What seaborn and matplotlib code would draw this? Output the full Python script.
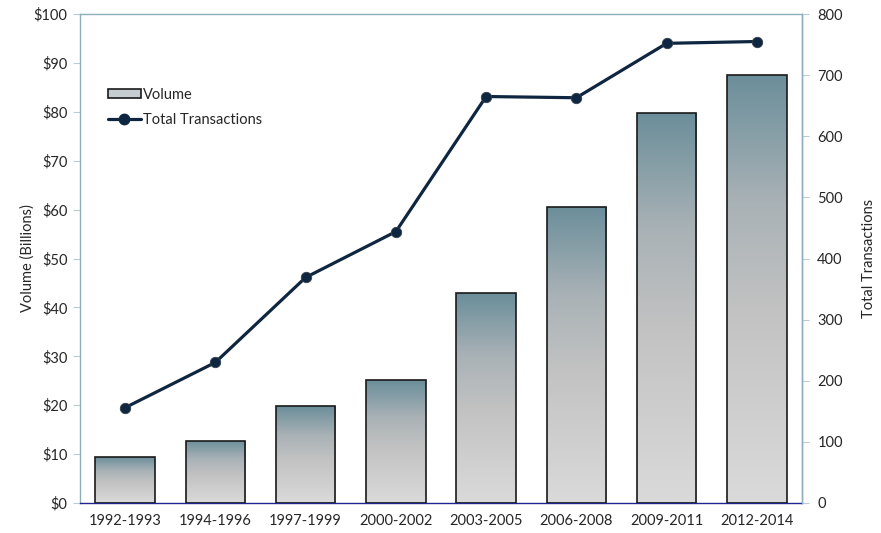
import numpy as np
import pandas as pd
import seaborn as sns
import matplotlib.pyplot as plt
from matplotlib.colors import LinearSegmentedColormap
from matplotlib.patches import Patch
from matplotlib.lines import Line2D

# Data
periods = ["1992-1993", "1994-1996", "1997-1999", "2000-2002",
           "2003-2005", "2006-2008", "2009-2011", "2012-2014"]
volume = [9.4, 12.7, 19.8, 25.1, 42.9, 60.6, 79.8, 87.6]
transactions = [156, 230, 369, 444, 665, 663, 752, 755]

df = pd.DataFrame({"period": periods, "volume": volume, "transactions": transactions})

sns.set_style("white")
plt.rcParams['font.family'] = ['Lato', 'DejaVu Sans']

fig = plt.figure(figsize=(8.81, 5.33), dpi=100)
ax = fig.add_axes([80 / 881, 1 - 503 / 533, 722 / 881, 489 / 533])

sns.barplot(data=df, x="period", y="volume", ax=ax, width=0.66,
            color="#c0c0c0", edgecolor="#1a1a1a", linewidth=1.2, zorder=3)

# gradient fill for each bar
cmap = LinearSegmentedColormap.from_list(
    "bar", [(0, "#dadada"), (0.45, "#c2c2c2"), (0.7, "#a9b2b6"), (1, "#6b8e9a")])
grad = np.linspace(0, 1, 256).reshape(-1, 1)
for p in ax.patches:
    x0, y0, w, h = p.get_x(), p.get_y(), p.get_width(), p.get_height()
    im = ax.imshow(grad, extent=[x0, x0 + w, y0, y0 + h], origin="lower",
                   aspect="auto", cmap=cmap, zorder=2)
    im.set_clip_path(p)
    p.set_facecolor("none")

ax.set_aspect("auto")
ax.set_xlim(-0.5, 7.5)
ax.set_ylim(0, 100)
ax.set_yticks(range(0, 101, 10))
ax.set_yticklabels([f"${v}" for v in range(0, 101, 10)])
ax.set_xlabel("")
ax.set_ylabel("Volume (Billions)", fontsize=10.5, labelpad=-1)

# category separators as crossing minor ticks
ax.set_xticks(np.arange(-0.5, 8, 1), minor=True)
ax.tick_params(axis="x", which="major", length=0, pad=8, labelsize=10.5)
ax.tick_params(axis="x", which="minor", direction="inout", length=9, width=0.8, color="#7b7bd0")
ax.tick_params(axis="y", which="major", left=True, length=5, width=0.8,
               color="#b9ccd4", labelsize=10.5, pad=4)

spine_col = "#8eaebc"
for s in ["left", "top", "right"]:
    ax.spines[s].set_color(spine_col)
    ax.spines[s].set_linewidth(1.0)
ax.spines["bottom"].set_color("#23238f")
ax.spines["bottom"].set_linewidth(1.0)

# transactions line on the secondary axis
ax2 = ax.twinx()
sns.lineplot(x=np.arange(len(periods)), y=transactions, ax=ax2, color="#0f2640",
             linewidth=2.3, marker="o", markersize=7.5, markeredgecolor="#333f4a",
             markeredgewidth=0.6, zorder=4)
ax2.set_xlim(-0.5, 7.5)
ax2.set_ylim(0, 800)
ax2.set_yticks(range(0, 801, 100))
ax2.set_ylabel("Total Transactions", fontsize=10.5, labelpad=14)
ax2.tick_params(axis="y", right=True, length=5, width=0.8, color="#b9ccd4",
                labelsize=10.5, pad=6)
for s in ["left", "top", "bottom"]:
    ax2.spines[s].set_visible(False)
ax2.spines["right"].set_color(spine_col)
ax2.spines["right"].set_linewidth(1.0)

handles = [Patch(facecolor="#c6cdd1", edgecolor="#1a1a1a", linewidth=1.2),
           Line2D([0], [0], color="#0f2640", linewidth=2.3, marker="o", markersize=7.5)]
ax2.legend(handles, ["Volume", "Total Transactions"], loc="upper left",
           bbox_to_anchor=(0.02, 0.876), frameon=False, fontsize=10.5,
           handlelength=2.3, handleheight=0.5, handletextpad=0.1, labelspacing=0.78)

fig.savefig("out.png", dpi=100)
